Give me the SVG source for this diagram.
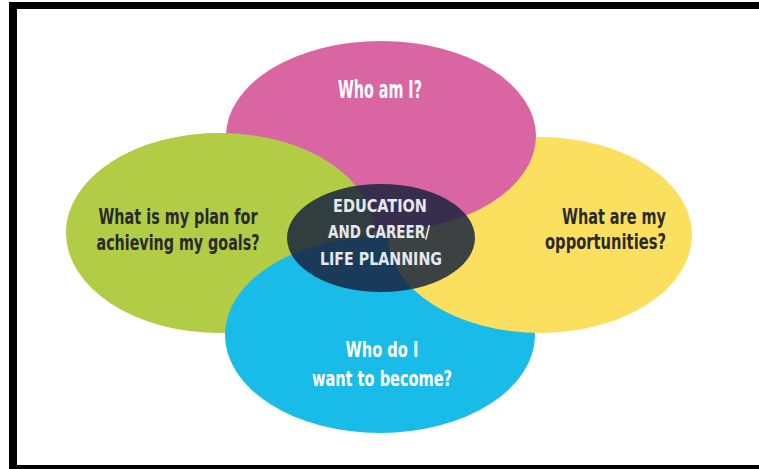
<svg xmlns="http://www.w3.org/2000/svg" width="759" height="469" viewBox="0 0 759 469">
<defs>
<clipPath id="topHalf"><rect x="0" y="0" width="759" height="236"/></clipPath>
<style>
.q{font-family:"DejaVu Sans","Liberation Sans",sans-serif;font-weight:bold;font-stretch:condensed}
.dark{fill:#2a2a2a}
.light{fill:#ffffff}
.core{fill:#e6e8ef;font-size:17px}
</style>
</defs>
<rect x="0" y="0" width="759" height="469" fill="#ffffff"/>
<g id="frame" fill="#000">
<rect x="9" y="2" width="750" height="7"/>
<rect x="9" y="2" width="8" height="467"/>
<rect x="9" y="465" width="750" height="4"/>
</g>
<g id="green"><ellipse cx="220" cy="233" rx="154" ry="100" fill="#b2cc46"/></g>
<g id="blue"><ellipse cx="380" cy="335" rx="155" ry="98" fill="#19bce9"/></g>
<g id="yellow"><ellipse cx="540" cy="235" rx="152" ry="98" fill="#fbe05f"/></g>
<g id="pink"><ellipse cx="381" cy="136" rx="155" ry="95" fill="#da65a3"/></g>
<g id="green-over" clip-path="url(#topHalf)"><ellipse cx="220" cy="233" rx="154" ry="100" fill="#b2cc46"/></g>
<g id="center"><ellipse cx="381" cy="238" rx="94" ry="54" fill="#1a2540" fill-opacity="0.85"/></g>
<g id="labels">
<text class="q light" x="380" y="98" font-size="25" text-anchor="middle" textLength="84" lengthAdjust="spacingAndGlyphs">Who am I?</text>
<text class="q dark" x="178" y="224" font-size="22" text-anchor="middle" textLength="159" lengthAdjust="spacingAndGlyphs">What is my plan for</text>
<text class="q dark" x="178" y="250" font-size="22" text-anchor="middle" textLength="163" lengthAdjust="spacingAndGlyphs">achieving my goals?</text>
<text class="q dark" x="666" y="224" font-size="22" text-anchor="end" textLength="104" lengthAdjust="spacingAndGlyphs">What are my</text>
<text class="q dark" x="666" y="249" font-size="22" text-anchor="end" textLength="121" lengthAdjust="spacingAndGlyphs">opportunities?</text>
<text class="q light" x="382" y="357" font-size="22" text-anchor="middle" textLength="73" lengthAdjust="spacingAndGlyphs">Who do I</text>
<text class="q light" x="382" y="386" font-size="22" text-anchor="middle" textLength="140" lengthAdjust="spacingAndGlyphs">want to become?</text>
<text class="q core" x="380" y="212" text-anchor="middle" textLength="94" lengthAdjust="spacingAndGlyphs">EDUCATION</text>
<text class="q core" x="379" y="238" text-anchor="middle" textLength="102" lengthAdjust="spacingAndGlyphs">AND CAREER/</text>
<text class="q core" x="381" y="265" text-anchor="middle" textLength="122" lengthAdjust="spacingAndGlyphs">LIFE PLANNING</text>
</g>
</svg>
